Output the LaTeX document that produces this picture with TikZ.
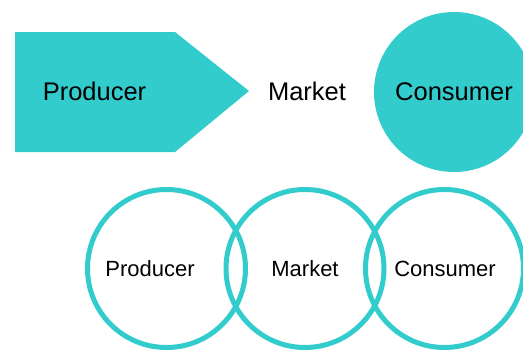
\documentclass[tikz,border=0pt]{standalone}
\usepackage{fontspec}
\setmainfont{Liberation Sans}
\definecolor{teal1}{RGB}{51,204,204}
\tikzset{
  bigtxt/.style={font=\fontsize{25.5}{28}\selectfont, inner sep=0pt},
  smalltxt/.style={font=\fontsize{22}{25}\selectfont, inner sep=0pt},
  ring/.style={circle, draw=teal1, line width=5pt, minimum size=158pt, inner sep=0pt, outer sep=0pt},
}
\begin{document}
\begin{tikzpicture}[x=1pt,y=-1pt]
\useasboundingbox (0,0) rectangle (523,349);
\begin{scope}
\clip (0,0) rectangle (523,349);
% top row
\fill[teal1] (15,32) -- (175,32) -- (249,91) -- (175,152) -- (15,152) -- cycle;
\node[circle, fill=teal1, minimum size=160pt, inner sep=0pt] (cons) at (454,92) {};
\node[bigtxt] (prodT) at (94.5,91) {Producer};
\node[bigtxt] (markT) at (307,91) {Market};
\node[bigtxt] at (cons.center) {Consumer};
% bottom row
\node[ring] (c1) at (166.5,268.5) {};
\node[ring] (c2) at (305,268.5) {};
\node[ring] (c3) at (444.5,268.5) {};
\node[smalltxt] (p2) at (150,269) {Producer};
\node[smalltxt] (m2) at (305,269) {Market};
\node[smalltxt] (k2) at (445,269) {Consumer};
\end{scope}
\end{tikzpicture}
\end{document}
